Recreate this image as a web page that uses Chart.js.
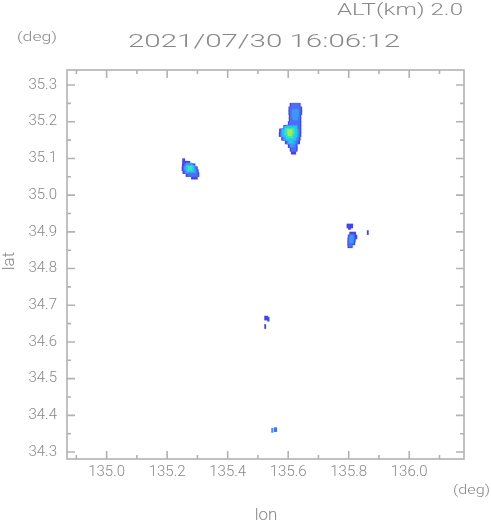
<!DOCTYPE html>
<html>
<head>
<meta charset="utf-8">
<script src="https://cdn.jsdelivr.net/npm/chart.js@4/dist/chart.umd.min.js"></script>
<style>
  html, body { margin: 0; padding: 0; background: #fff; }
  #wrap { width: 491px; height: 521px; }
</style>
</head>
<body>
<div id="wrap"><canvas id="radar"></canvas></div>
<script>
/* ── Data: echo runs [lat, lonStart, lonEnd] per intensity level ── */
const xTicks = [135.0, 135.2, 135.4, 135.6, 135.8, 136.0];
const xMinorTicks = [134.9, 135.1, 135.3, 135.5, 135.7, 135.9, 136.1];
const yTicks = [34.3, 34.4, 34.5, 34.6, 34.7, 34.8, 34.9, 35.0, 35.1, 35.2, 35.3];
const yMinorTicks = [34.35, 34.45, 34.55, 34.65, 34.75, 34.85, 34.95, 35.05, 35.15, 35.25];

const levelColors = ['#4343f2', '#4b6ef7', '#3c98f8', '#22c8f0', '#3ce6b2', '#a6ee44'];

const level1 = [
  [35.245, 135.606, 135.640], [35.235, 135.602, 135.645], [35.225, 135.602, 135.645],
  [35.215, 135.603, 135.642], [35.205, 135.603, 135.642], [35.195, 135.600, 135.642],
  [35.185, 135.585, 135.642], [35.175, 135.571, 135.642], [35.165, 135.570, 135.642],
  [35.155, 135.578, 135.640], [35.145, 135.590, 135.638], [35.135, 135.600, 135.630],
  [35.125, 135.606, 135.630], [35.117, 135.610, 135.625],
  [35.094, 135.251, 135.258], [35.087, 135.252, 135.275], [35.080, 135.250, 135.292],
  [35.072, 135.249, 135.300], [35.064, 135.252, 135.303], [35.056, 135.262, 135.305],
  [35.049, 135.280, 135.300],
  [34.916, 135.794, 135.813], [34.912, 135.799, 135.806], [34.894, 135.803, 135.823],
  [34.886, 135.798, 135.827], [34.878, 135.797, 135.822], [34.870, 135.797, 135.820],
  [34.862, 135.797, 135.812], [34.898, 135.861, 135.865],
  [34.665, 135.522, 135.532], [34.662, 135.532, 135.537], [34.642, 135.522, 135.526]
];
const level2 = [
  [35.245, 135.610, 135.636], [35.235, 135.606, 135.640], [35.225, 135.606, 135.640],
  [35.215, 135.607, 135.638], [35.205, 135.607, 135.638], [35.195, 135.604, 135.638],
  [35.185, 135.590, 135.638], [35.175, 135.575, 135.638], [35.165, 135.574, 135.638],
  [35.155, 135.582, 135.636], [35.145, 135.595, 135.632], [35.135, 135.605, 135.626],
  [35.125, 135.610, 135.625],
  [35.080, 135.258, 135.286], [35.072, 135.254, 135.296], [35.064, 135.258, 135.299],
  [35.056, 135.268, 135.300],
  [34.888, 135.801, 135.818], [34.880, 135.800, 135.818], [34.872, 135.800, 135.816],
  [34.864, 135.800, 135.810],
  [34.361, 135.554, 135.562]
];
const level3 = [
  [35.228, 135.613, 135.634], [35.218, 135.612, 135.634], [35.210, 135.615, 135.630],
  [35.185, 135.596, 135.630], [35.175, 135.578, 135.634], [35.165, 135.577, 135.634],
  [35.155, 135.585, 135.630], [35.145, 135.598, 135.624], [35.137, 135.606, 135.620],
  [35.082, 135.262, 135.282], [35.074, 135.256, 135.292], [35.066, 135.260, 135.294],
  [34.884, 135.804, 135.815], [34.876, 135.803, 135.814],
  [34.359, 135.545, 135.550]
];
const level4 = [
  [35.182, 135.588, 135.628], [35.173, 135.580, 135.630], [35.164, 135.582, 135.628],
  [35.155, 135.592, 135.624], [35.147, 135.602, 135.616],
  [35.076, 135.262, 135.288], [35.069, 135.264, 135.288]
];
const level5 = [
  [35.177, 135.590, 135.620], [35.169, 135.589, 135.620], [35.161, 135.595, 135.616],
  [35.073, 135.268, 135.282]
];
const level6 = [
  [35.173, 135.598, 135.613], [35.167, 135.600, 135.611]
];

const levels = [level1, level2, level3, level4, level5, level6];

/* ── Style ── */
const textColor = '#888888';
const frameColor = '#b2b2b2';
const fontFamily = "Roboto, 'DejaVu Sans', sans-serif";

function wideText(ctx, str, x, y, width) {
  // stretch text horizontally to span the given width (wide plot font look)
  const natural = ctx.measureText(str).width;
  ctx.save();
  ctx.translate(x, y);
  ctx.scale(width / natural, 1);
  ctx.fillText(str, 0, 0);
  ctx.restore();
}

const framePlugin = {
  id: 'frame',
  afterDatasetsDraw(chart) {
    const { ctx, chartArea: a, scales } = chart;
    ctx.save();
    ctx.strokeStyle = frameColor;
    ctx.lineWidth = 1.6;
    ctx.strokeRect(a.left, a.top, a.right - a.left, a.bottom - a.top);

    ctx.beginPath();
    const tick = (vals, len, isX) => {
      vals.forEach((v) => {
        if (isX) {
          const px = scales.x.getPixelForValue(v);
          ctx.moveTo(px, a.bottom); ctx.lineTo(px, a.bottom - len);
          ctx.moveTo(px, a.top); ctx.lineTo(px, a.top + len);
        } else {
          const py = scales.y.getPixelForValue(v);
          ctx.moveTo(a.left, py); ctx.lineTo(a.left + len, py);
          ctx.moveTo(a.right, py); ctx.lineTo(a.right - len, py);
        }
      });
    };
    tick(xTicks, 8, true);
    tick(xMinorTicks, 4, true);
    tick(yTicks, 8, false);
    tick(yMinorTicks, 4, false);
    ctx.stroke();
    ctx.restore();
  },
  afterDraw(chart) {
    const { ctx } = chart;
    ctx.save();
    ctx.fillStyle = textColor;
    ctx.textBaseline = 'alphabetic';
    ctx.textAlign = 'left';

    ctx.font = '300 17px ' + fontFamily;
    wideText(ctx, 'ALT(km) 2.0', 337, 15, 126);

    ctx.font = '300 18px ' + fontFamily;
    wideText(ctx, '2021/07/30 16:06:12', 128, 47, 272);

    ctx.font = '300 13px ' + fontFamily;
    wideText(ctx, '(deg)', 17, 41, 40);
    wideText(ctx, '(deg)', 453, 494, 37);

    ctx.font = '300 17px ' + fontFamily;
    ctx.textAlign = 'center';
    ctx.fillText('lon', 266, 520);

    ctx.translate(14, 261);
    ctx.rotate(-Math.PI / 2);
    ctx.fillText('lat', 0, 0);
    ctx.restore();
  }
};

const datasets = levels.map((runs, i) => ({
  label: 'level ' + (i + 1),
  data: runs.map((r) => ({ y: r[0], x: [r[1], r[2]] })),
  backgroundColor: levelColors[i],
  borderWidth: 0,
  barThickness: 4,
  grouped: false,
  order: -i
}));

const tickFont = { family: fontFamily, size: 15, weight: '300' };

new Chart(document.getElementById('radar'), {
  type: 'bar',
  data: { datasets },
  plugins: [framePlugin],
  options: {
    indexAxis: 'y',
    responsive: true,
    maintainAspectRatio: false,
    animation: false,
    layout: { padding: { top: 70, right: 27, left: 0, bottom: 0 } },
    plugins: { legend: { display: false }, tooltip: { enabled: false } },
    scales: {
      x: {
        type: 'linear',
        min: 134.869,
        max: 136.181,
        offset: false,
        grid: { display: false, drawTicks: false },
        border: { display: false },
        ticks: {
          color: textColor,
          font: tickFont,
          padding: 4,
          autoSkip: false,
          maxRotation: 0,
          callback: (v) => v.toFixed(1)
        },
        afterBuildTicks: (s) => { s.ticks = xTicks.map((v) => ({ value: v })); },
        afterFit: (s) => { s.height = 62; }
      },
      y: {
        type: 'linear',
        min: 34.281,
        max: 35.341,
        offset: false,
        grid: { display: false, drawTicks: false },
        border: { display: false },
        ticks: {
          color: textColor,
          font: tickFont,
          padding: 10,
          autoSkip: false,
          callback: (v) => v.toFixed(1)
        },
        afterBuildTicks: (s) => { s.ticks = yTicks.map((v) => ({ value: v })); },
        afterFit: (s) => { s.width = 67; }
      }
    }
  }
});
</script>
</body>
</html>
